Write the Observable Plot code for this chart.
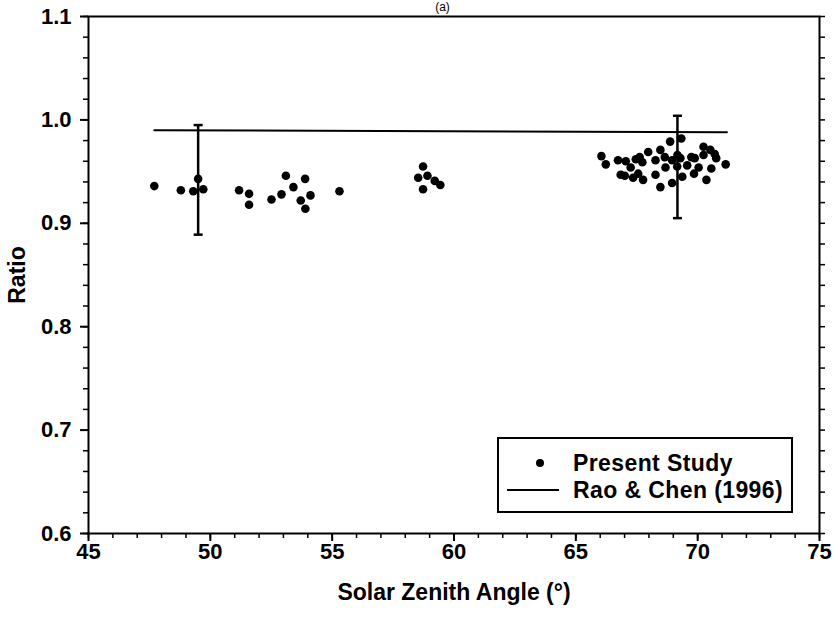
<!DOCTYPE html>
<html>
<head>
<meta charset="utf-8">
<script src="https://cdn.jsdelivr.net/npm/d3@7"></script>
<script src="https://cdn.jsdelivr.net/npm/@observablehq/plot@0.6"></script>
<style>
  html, body { margin: 0; padding: 0; background: #fff; overflow: hidden; }
  #wrap { position: relative; width: 833px; height: 619px; font-family: "Liberation Sans", Arial, Helvetica, sans-serif; font-weight: bold; }
  #title { position: absolute; left: 0; width: 885px; top: 0px; text-align: center; font-size: 12px; line-height: 14px; font-weight: normal; color: #000; }
  #legend { position: absolute; left: 497px; top: 437px; width: 292px; height: 72px; border: 2px solid #000; background: #fff; }
  .row { position: absolute; left: 0; height: 26px; line-height: 26px; font-size: 23px; color: #000; }
  .row span.t { position: absolute; left: 74px; white-space: nowrap; letter-spacing: 0.4px; }
  .sym { position: absolute; }
</style>
</head>
<body>
<div id="wrap">
  <div id="chart"></div>
  <div id="title">(a)</div>
  <div id="legend">
    <div class="row" style="top:11px;"><span class="sym" style="left:37px;top:9px;width:8px;height:8px;border-radius:50%;background:#000;"></span><span class="t">Present Study</span></div>
    <div class="row" style="top:38px;"><span class="sym" style="left:8px;top:12px;width:52px;height:0;border-top:2px solid #000;"></span><span class="t">Rao &amp; Chen (1996)</span></div>
  </div>
</div>
<script>
// Present Study: solar zenith angle (deg) and ratio
const studySZA = [
  47.70, 48.79, 49.30, 49.50, 49.71,
  51.18, 51.59, 51.59, 52.51, 52.92, 53.10, 53.41, 53.89, 54.11, 53.71, 53.90, 55.30,
  58.73, 58.53, 58.91, 58.73, 59.21, 59.44,
  66.05, 66.23, 66.73, 67.05, 67.25, 66.84, 67.01, 67.35, 67.56, 67.76,
  67.46, 67.62, 67.73, 67.97, 68.27, 68.27, 68.47, 68.47, 68.65, 68.68,
  68.87, 68.95, 68.95, 69.16, 69.17, 69.29, 69.33, 69.37, 69.57, 69.74,
  69.88, 69.85, 70.04, 70.24, 70.24, 70.36, 70.52, 70.56, 70.70, 70.76, 71.15
];
const studyRatio = [
  0.936, 0.932, 0.931, 0.943, 0.933,
  0.932, 0.9285, 0.918, 0.923, 0.928, 0.946, 0.935, 0.943, 0.927, 0.922, 0.914, 0.931,
  0.955, 0.944, 0.946, 0.933, 0.941, 0.937,
  0.965, 0.957, 0.961, 0.960, 0.954, 0.947, 0.946, 0.944, 0.948, 0.942,
  0.962, 0.964, 0.959, 0.969, 0.961, 0.947, 0.971, 0.935, 0.964, 0.954,
  0.979, 0.961, 0.939, 0.955, 0.966, 0.963, 0.982, 0.945, 0.956, 0.964,
  0.963, 0.948, 0.954, 0.974, 0.966, 0.942, 0.971, 0.953, 0.967, 0.963, 0.957
];
// Rao & Chen (1996) line
const raoSZA = [47.7, 71.2];
const raoRatio = [0.990, 0.988];
// Error bars
const errSZA = [49.50, 69.17];
const errLow = [0.889, 0.905];
const errHigh = [0.995, 1.004];

const xMajor = [45, 50, 55, 60, 65, 70, 75];
const xMinor = d3.range(45, 75.5, 1);
const yMajor = [0.6, 0.7, 0.8, 0.9, 1.0, 1.1];
const yMinor = d3.range(0, 26).map(i => 0.6 + i * 0.02);

const study = studySZA.map((x, i) => ({x, y: studyRatio[i]}));
const rao = raoSZA.map((x, i) => ({x, y: raoRatio[i]}));
const errs = errSZA.map((x, i) => ({x, lo: errLow[i], hi: errHigh[i]}));

const capSymbol = {
  draw(context, size) {
    const w = 4.5;
    context.moveTo(-w, 0);
    context.lineTo(w, 0);
  }
};

const font = "'Liberation Sans', Arial, Helvetica, sans-serif";

const chart = Plot.plot({
  width: 833,
  height: 619,
  marginLeft: 88,
  marginRight: 14,
  marginTop: 16,
  marginBottom: 86,
  style: {fontFamily: font, fontWeight: "bold", fontSize: "19px", background: "#fff", color: "#000"},
  x: {domain: [45, 75]},
  y: {domain: [0.6, 1.1]},
  marks: [
    // minor ticks
    Plot.axisX({ticks: xMinor, tickSize: 5, tickFormat: () => "", strokeWidth: 1.5, label: null}),
    Plot.axisY({ticks: yMinor, tickSize: 5, tickFormat: () => "", strokeWidth: 1.5, label: null}),
    Plot.axisY({anchor: "right", ticks: yMinor, tickSize: 5, tickFormat: () => "", strokeWidth: 1.5, label: null}),
    // major ticks
    Plot.axisX({ticks: xMajor, tickSize: 8, strokeWidth: 2, tickFormat: () => "",
      label: "Solar Zenith Angle (°)", labelAnchor: "center", labelArrow: "none", labelOffset: 66}),
    Plot.text(xMajor, {x: d => d, text: d => String(d), frameAnchor: "bottom", lineAnchor: "top", dy: 10,
      fontSize: 22, fontWeight: "bold", fill: "#000"}),
    Plot.axisY({ticks: yMajor, tickSize: 8, tickPadding: 9, strokeWidth: 2, fontSize: 22, tickFormat: d3.format(".1f"),
      label: "Ratio", labelAnchor: "center", labelArrow: "none", labelOffset: 80}),
    Plot.frame({stroke: "#000", strokeWidth: 2}),
    Plot.line(rao, {x: "x", y: "y", stroke: "#000", strokeWidth: 2}),
    Plot.ruleX(errs, {x: "x", y1: "lo", y2: "hi", stroke: "#000", strokeWidth: 2.5}),
    Plot.dot(errs, {x: "x", y: "lo", symbol: capSymbol, stroke: "#000", strokeWidth: 2.5}),
    Plot.dot(errs, {x: "x", y: "hi", symbol: capSymbol, stroke: "#000", strokeWidth: 2.5}),
    Plot.dot(study, {x: "x", y: "y", r: 4.3, fill: "#000", stroke: "none"})
  ]
});
d3.select(chart).selectAll('g[aria-label="y-axis tick label"]').style("font-size", "22px");
d3.select(chart).selectAll('g[aria-label="x-axis label"], g[aria-label="y-axis label"]').style("font-size", "23px");
document.getElementById("chart").appendChild(chart);
</script>
</body>
</html>
